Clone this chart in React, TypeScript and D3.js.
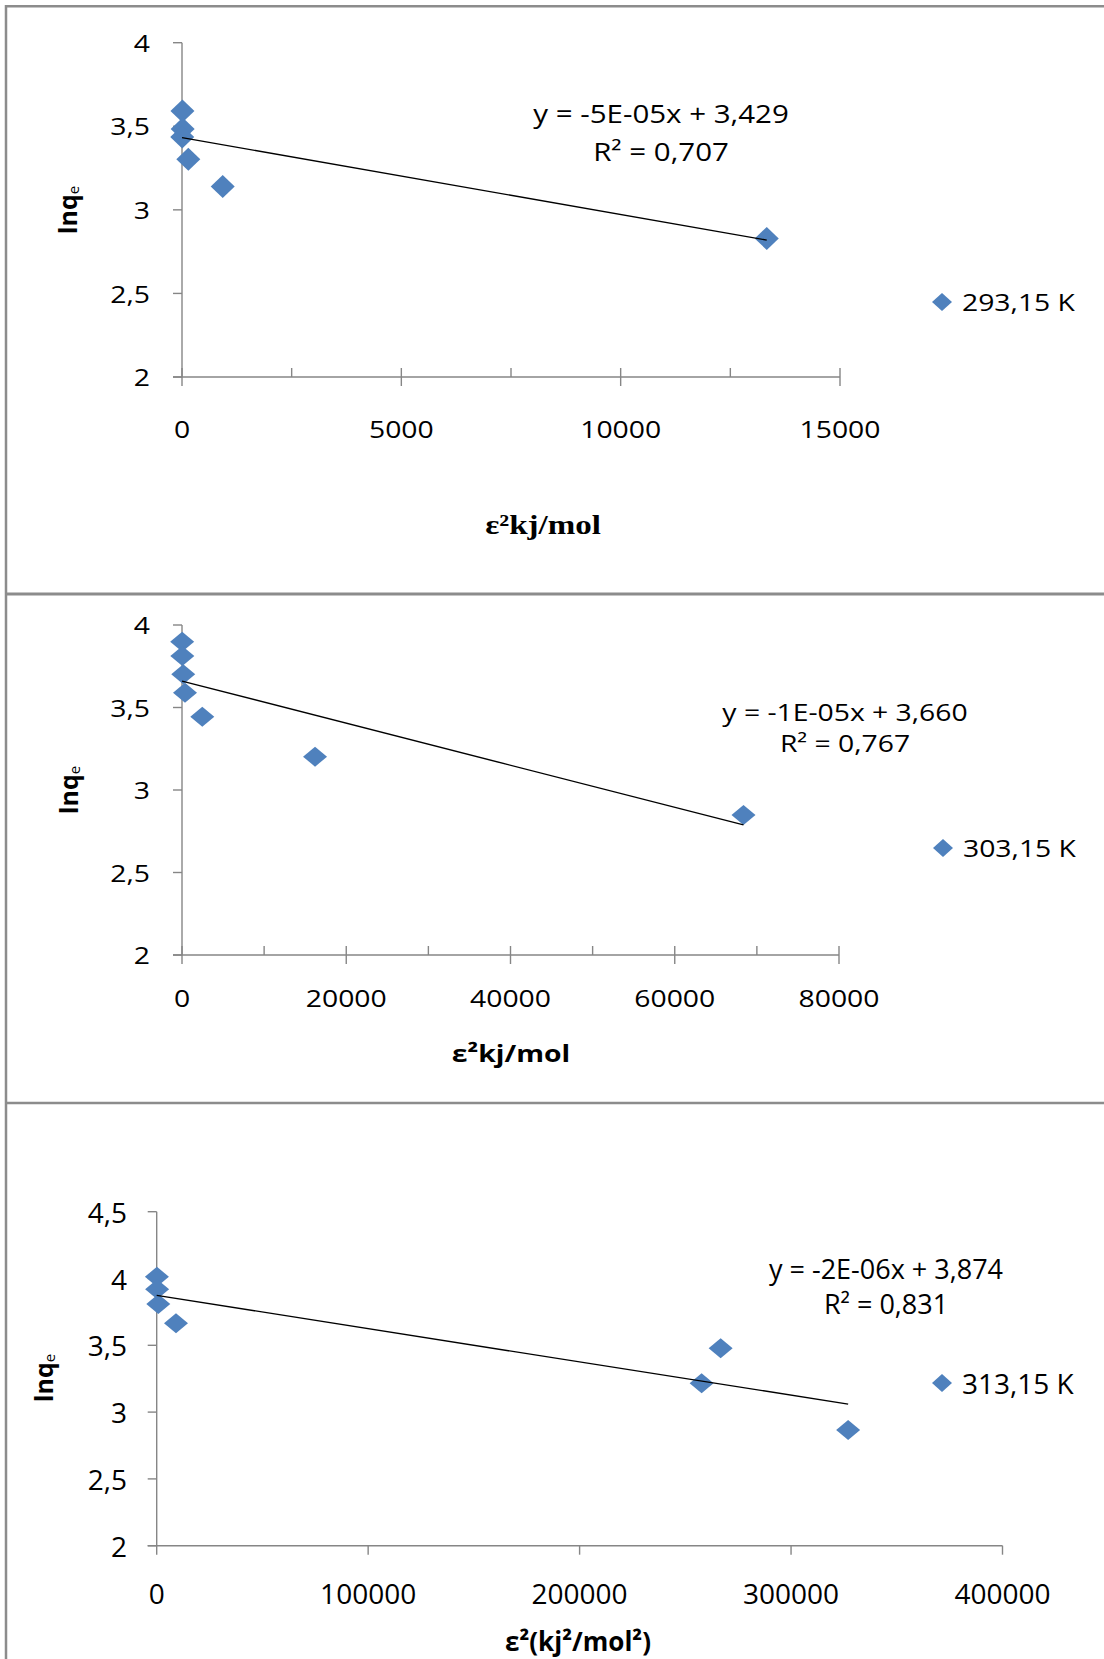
import React from "react";
import * as d3 from "d3";

// 293,15 K
const x293 = [10, 15, 5, 144, 928, 13330];
const y293 = [3.592, 3.484, 3.436, 3.303, 3.139, 2.829];
// 303,15 K
const x303 = [20, 40, 150, 365, 2470, 16200, 68370];
const y303 = [3.899, 3.812, 3.701, 3.59, 3.444, 3.202, 2.848];
// 313,15 K
const x313 = [100, 200, 750, 9125, 266700, 257700, 327000];
const y313 = [4.013, 3.919, 3.809, 3.665, 3.478, 3.216, 2.866];

const seriesNames = ["293,15 K", "303,15 K", "313,15 K"];
// trendline as drawn (intercept / slope), plus the printed equation
const trendIntercepts = [3.432, 3.66, 3.874];
const trendSlopes = [-4.6e-5, -1.275e-5, -2.49e-6];
const equations = ["y = -5E-05x + 3,429", "y = -1E-05x + 3,660", "y = -2E-06x + 3,874"];
const r2Values = ["R² = 0,707", "R² = 0,767", "R² = 0,831"];

const xTicks1 = [0, 5000, 10000, 15000];
const xMinor1 = [2500, 7500, 12500];
const xTicks2 = [0, 20000, 40000, 60000, 80000];
const xMinor2 = [10000, 30000, 50000, 70000];
const xTicks3 = [0, 100000, 200000, 300000, 400000];
const yTicks12 = [2, 2.5, 3, 3.5, 4];
const yTicks3 = [2, 2.5, 3, 3.5, 4, 4.5];

const xTitles = ["ε²kj/mol", "ε²kj/mol", "ε²(kj²/mol²)"];

const W = 1104;
const H = 1659;
const BLUE = "#4F81BD";
const AXIS = "#868686";
const BORDER = "#8c8c8c";
const SANS = "'Open Sans', sans-serif";
const SERIF = "'Liberation Serif', 'Times New Roman', serif";

const fmt = (v) => String(v).replace(".", ",");

// text with a horizontal stretch (the source picture is not evenly scaled)
const SText = ({ x, y, sx = 1, anchor = "middle", size, weight = "normal", family = SANS, children }) => (
  <g transform={`translate(${x},${y}) scale(${sx},1)`}>
    <text
      textAnchor={anchor}
      dominantBaseline="central"
      fontSize={size}
      fontWeight={weight}
      fontFamily={family}
      fill="#000"
    >
      {children}
    </text>
  </g>
);

const diamond = (cx, cy, hw, hh) =>
  `M${cx},${cy - hh}L${cx + hw},${cy}L${cx},${cy + hh}L${cx - hw},${cy}Z`;

const panels = [
  {
    xs: x293, ys: y293, xDomain: [0, 15000], yDomain: [2, 4],
    xRange: [182, 840], yRange: [377, 42.7],
    xTicks: xTicks1, xMinor: xMinor1, yTicks: yTicks12, cross: true,
    font: 24, eqSize: 25, sx: 1.18, tickLabelY: 429, yLabelRight: 150,
    yTitle: [67, 210], xTitle: [543, 525], xTitleFamily: SERIF, xTitleSize: 28,
    eq: [661, 113, 151], legend: [942, 302], marker: [12, 11.5],
  },
  {
    xs: x303, ys: y303, xDomain: [0, 80000], yDomain: [2, 4],
    xRange: [182, 839], yRange: [955, 625],
    xTicks: xTicks2, xMinor: xMinor2, yTicks: yTicks12, cross: true,
    font: 24, eqSize: 24, sx: 1.18, tickLabelY: 998, yLabelRight: 150,
    yTitle: [68, 790], xTitle: [511, 1053], xTitleFamily: SANS, xTitleSize: 24,
    eq: [845, 712, 743], legend: [943, 848], marker: [12, 10],
  },
  {
    xs: x313, ys: y313, xDomain: [0, 400000], yDomain: [2, 4.5],
    xRange: [156.7, 1002.5], yRange: [1545.7, 1211.7],
    xTicks: xTicks3, xMinor: [], yTicks: yTicks3, cross: false,
    font: 28, eqSize: 27, sx: 1, tickLabelY: 1593, yLabelRight: 127,
    yTitle: [43, 1378], xTitle: [578, 1641], xTitleFamily: SANS, xTitleSize: 26,
    eq: [886, 1268, 1303], legend: [942, 1383], marker: [12, 10],
  },
];

const Panel = ({ p, i }) => {
  const x = d3.scaleLinear().domain(p.xDomain).range(p.xRange);
  const y = d3.scaleLinear().domain(p.yDomain).range(p.yRange);
  const x0 = x(p.xDomain[0]);
  const y0 = y(p.yDomain[0]);
  const tk = 9;

  const xMax = d3.max(p.xs);
  const trend = d3.line()
    .x((d) => x(d))
    .y((d) => y(trendIntercepts[i] + trendSlopes[i] * d));

  const [mw, mh] = p.marker;

  return (
    <g>
      {/* axes */}
      <line x1={x0} y1={y(p.yDomain[1])} x2={x0} y2={y0} stroke={AXIS} strokeWidth={1.4} />
      <line x1={x0 - tk} y1={y0} x2={x(p.xDomain[1])} y2={y0} stroke={AXIS} strokeWidth={1.4} />
      {p.yTicks.map((t) => (
        <g key={t}>
          <line x1={x0 - tk} x2={x0} y1={y(t)} y2={y(t)} stroke={AXIS} strokeWidth={1.4} />
          <SText x={p.yLabelRight} y={y(t)} anchor="end" size={p.font} sx={p.sx}>
            {fmt(t)}
          </SText>
        </g>
      ))}
      {p.xTicks.map((t) => (
        <g key={t}>
          <line
            x1={x(t)} x2={x(t)}
            y1={p.cross ? y0 - tk : y0} y2={y0 + tk}
            stroke={AXIS} strokeWidth={1.4}
          />
          <SText x={x(t)} y={p.tickLabelY} size={p.font} sx={p.sx}>
            {t}
          </SText>
        </g>
      ))}
      {p.xMinor.map((t) => (
        <line key={t} x1={x(t)} x2={x(t)} y1={y0 - tk} y2={y0} stroke={AXIS} strokeWidth={1.4} />
      ))}

      {/* points */}
      {p.xs.map((v, j) => (
        <path key={j} d={diamond(x(v), y(p.ys[j]), mw, mh)} fill={BLUE} />
      ))}

      {/* linear trend */}
      <path d={trend([0, xMax])} fill="none" stroke="#000" strokeWidth={1.4} />

      <SText x={p.eq[0]} y={p.eq[1]} size={p.eqSize} sx={p.sx}>{equations[i]}</SText>
      <SText x={p.eq[0]} y={p.eq[2]} size={p.eqSize} sx={p.sx}>{r2Values[i]}</SText>

      {/* legend */}
      <path d={diamond(p.legend[0], p.legend[1], 10, 9)} fill={BLUE} />
      <SText x={p.legend[0] + 20} y={p.legend[1]} anchor="start" size={p.font} sx={p.sx}>
        {seriesNames[i]}
      </SText>

      {/* axis titles */}
      <g transform={`translate(${p.yTitle[0]},${p.yTitle[1]}) rotate(-90)`}>
        <text
          textAnchor="middle"
          dominantBaseline="central"
          fontSize={25}
          fontWeight="bold"
          fontFamily={SANS}
        >
          lnq<tspan fontSize={15} fontWeight="normal" dy={6}>e</tspan>
        </text>
      </g>
      <SText
        x={p.xTitle[0]} y={p.xTitle[1]}
        size={p.xTitleSize} sx={p.sx} weight="bold" family={p.xTitleFamily}
      >
        {xTitles[i]}
      </SText>
    </g>
  );
};

const App = () => {
  return (
    <svg
      width={W}
      height={H}
      style={{ position: "absolute", left: 0, top: 0, background: "#fff" }}
    >
      <rect x={0} y={0} width={W} height={H} fill="#fff" />
      {/* frame and panel separators */}
      <line x1={6} y1={5} x2={6} y2={H} stroke={BORDER} strokeWidth={2.5} />
      <line x1={5} y1={6.3} x2={W} y2={6.3} stroke={BORDER} strokeWidth={2.5} />
      <line x1={5} y1={594} x2={W} y2={594} stroke={BORDER} strokeWidth={3} />
      <line x1={5} y1={1103} x2={W} y2={1103} stroke={BORDER} strokeWidth={2.5} />
      {panels.map((p, i) => (
        <Panel key={i} p={p} i={i} />
      ))}
    </svg>
  );
};

export default App;
